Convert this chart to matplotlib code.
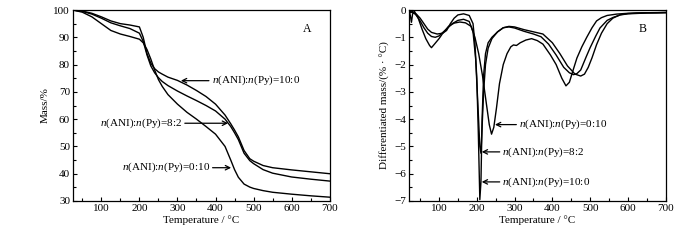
import matplotlib
matplotlib.use("Agg")
import matplotlib.pyplot as plt
from matplotlib.ticker import MultipleLocator

plt.rcParams['font.family'] = ['Liberation Serif', 'DejaVu Serif']
plt.rcParams['mathtext.fontset'] = 'custom'
plt.rcParams['mathtext.rm'] = 'Liberation Serif'
plt.rcParams['mathtext.it'] = 'Liberation Serif:italic'
plt.rcParams['font.size'] = 8

# ---- panel A: TG curves (mass %) ----
temp_a = [25, 50, 75, 100, 125, 150, 175, 200, 210, 220, 230, 240, 250, 260, 275,
          300, 325, 350, 375, 400, 425, 440, 450, 460, 475, 490, 500, 525, 550,
          600, 650, 700]
mass_ani = [100, 99.6, 98.8, 97.5, 96.0, 95.0, 94.5, 93.8, 90.0, 84.0, 80.5, 78.5,
            77.3, 76.5, 75.4, 74.2, 72.5, 70.5, 68.3, 65.5, 61.5, 58.3, 56.0, 53.5,
            48.5, 45.5, 44.6, 43.0, 42.2, 41.4, 40.7, 40.0]
mass_82 = [100, 99.5, 98.5, 97.0, 95.3, 94.2, 93.2, 91.5, 88.5, 83.5, 79.5, 77.0,
           75.2, 73.8, 72.3, 70.3, 68.5, 66.8, 65.0, 63.0, 60.0, 57.3, 55.0, 52.5,
           47.5, 44.8, 43.7, 41.5, 40.2, 38.8, 38.0, 37.3]
mass_py = [100, 99.2, 97.5, 95.0, 92.5, 91.2, 90.3, 89.3, 88.0, 85.5, 82.0, 78.0,
           74.5, 72.0, 69.0, 65.5, 62.5, 60.0, 57.3, 54.5, 50.0, 45.0, 41.5, 38.7,
           36.2, 35.1, 34.6, 33.8, 33.2, 32.5, 31.9, 31.4]

# ---- panel B: DTG curves ----
temp_b_ani = [20, 25, 30, 40, 50, 60, 70, 80, 95, 110, 120, 130, 140, 150, 165, 180,
              190, 195, 200, 204, 208, 211, 214, 218, 223, 230, 240, 255, 270, 285,
              300, 325, 350, 375, 400, 420, 440, 460, 475, 485, 495, 505, 517, 530,
              545, 560, 580, 600, 625, 650, 675, 700]
dtg_ani = [0, -0.05, -0.1, -0.15, -0.3, -0.5, -0.7, -0.82, -0.88, -0.85, -0.75, -0.5,
           -0.3, -0.18, -0.14, -0.2, -0.5, -1.2, -2.5, -4.5, -6.95, -6.3, -4.0, -2.4,
           -1.6, -1.2, -1.0, -0.8, -0.65, -0.6, -0.62, -0.72, -0.8, -0.88, -1.2, -1.6,
           -2.05, -2.35, -2.42, -2.35, -2.1, -1.75, -1.27, -0.85, -0.5, -0.3, -0.17,
           -0.13, -0.11, -0.1, -0.1, -0.09]

temp_b_82 = [20, 25, 30, 40, 50, 60, 70, 80, 90, 100, 110, 120, 135, 150, 165, 180,
             190, 197, 203, 208, 211, 214, 218, 223, 230, 240, 255, 270, 285, 300,
             325, 350, 370, 390, 410, 430, 445, 456, 465, 475, 490, 500, 515, 526,
             545, 561, 580, 600, 650, 700]
dtg_82 = [0, -0.1, -0.05, -0.2, -0.4, -0.65, -0.85, -0.97, -1.0, -0.95, -0.82, -0.7,
          -0.5, -0.38, -0.34, -0.42, -0.8, -1.8, -3.5, -5.0, -5.25, -4.3, -3.0, -2.0,
          -1.4, -1.05, -0.8, -0.65, -0.62, -0.66, -0.78, -0.88, -0.98, -1.25, -1.65,
          -2.1, -2.3, -2.37, -2.33, -2.2, -1.7, -1.38, -0.95, -0.66, -0.38, -0.27,
          -0.18, -0.14, -0.11, -0.1]

temp_b_py = [20, 24, 27, 30, 35, 45, 55, 65, 75, 80, 88, 100, 110, 125, 140, 155,
             170, 185, 195, 205, 215, 225, 233, 239, 245, 252, 260, 270, 280, 290,
             297, 305, 315, 330, 345, 360, 375, 395, 410, 425, 436, 445, 455, 465,
             478, 491, 505, 517, 530, 545, 570, 600, 650, 700]
dtg_py = [0, -0.2, -0.45, -0.15, -0.05, -0.3, -0.7, -1.05, -1.3, -1.38, -1.25, -1.05,
          -0.85, -0.6, -0.48, -0.44, -0.47, -0.6, -1.0, -1.6, -2.4, -3.4, -4.2, -4.55,
          -4.3, -3.6, -2.7, -2.0, -1.6, -1.35, -1.28, -1.3, -1.2, -1.1, -1.05, -1.12,
          -1.25, -1.65, -2.0, -2.5, -2.78, -2.65, -2.2, -1.76, -1.35, -1.0, -0.65,
          -0.4, -0.28, -0.2, -0.15, -0.12, -0.1, -0.09]

lab_ani = r'$n$(ANI):$n$(Py)=10:0'
lab_82 = r'$n$(ANI):$n$(Py)=8:2'
lab_py = r'$n$(ANI):$n$(Py)=0:10'

fig = plt.figure(figsize=(7, 2.4), dpi=100)
axA = fig.add_axes([0.104, 0.1625, 0.367, 0.7958])
axB = fig.add_axes([0.584, 0.1625, 0.367, 0.7958])

lw = 1.0
axA.plot(temp_a, mass_ani, 'k', lw=lw)
axA.plot(temp_a, mass_82, 'k', lw=lw)
axA.plot(temp_a, mass_py, 'k', lw=lw)
axA.set_xlim(25, 700)
axA.set_ylim(30, 100)
axA.xaxis.set_major_locator(MultipleLocator(100))
axA.xaxis.set_minor_locator(MultipleLocator(50))
axA.yaxis.set_major_locator(MultipleLocator(10))
axA.yaxis.set_minor_locator(MultipleLocator(5))
axA.set_xlabel('Temperature / °C', labelpad=2)
axA.set_ylabel('Mass/%', labelpad=3)
axA.text(640, 93, 'A', ha='center', va='center', fontsize=8.5)

arr = dict(arrowstyle='->', color='k', lw=0.9, shrinkA=0, shrinkB=0)
axA.annotate(lab_ani, xy=(309, 74.1), xytext=(390, 74.1), va='center', ha='left',
             arrowprops=arr)
axA.annotate(lab_82, xy=(433, 58.5), xytext=(312, 58.5), va='center', ha='right',
             arrowprops=arr)
axA.annotate(lab_py, xy=(441, 42.2), xytext=(385, 42.2), va='center', ha='right',
             arrowprops=arr)

axB.plot(temp_b_ani, dtg_ani, 'k', lw=lw)
axB.plot(temp_b_82, dtg_82, 'k', lw=lw)
axB.plot(temp_b_py, dtg_py, 'k', lw=lw)
axB.set_xlim(20, 700)
axB.set_ylim(-7, 0)
axB.xaxis.set_major_locator(MultipleLocator(100))
axB.xaxis.set_minor_locator(MultipleLocator(50))
axB.yaxis.set_major_locator(MultipleLocator(1))
axB.yaxis.set_minor_locator(MultipleLocator(0.5))
axB.set_xlabel('Temperature / °C', labelpad=2)
axB.set_ylabel('Differentiated mass/(% · °C)', labelpad=3)
axB.text(640, -0.7, 'B', ha='center', va='center', fontsize=8.5)

axB.annotate(lab_py, xy=(248, -4.2), xytext=(312, -4.2), va='center', ha='left',
             arrowprops=arr)
axB.annotate(lab_82, xy=(213, -5.2), xytext=(268, -5.2), va='center', ha='left',
             arrowprops=arr)
axB.annotate(lab_ani, xy=(213, -6.3), xytext=(268, -6.3), va='center', ha='left',
             arrowprops=arr)

for ax in (axA, axB):
    ax.tick_params(which='both', direction='in', top=False, right=False,
                   labelsize=8, pad=2)
    ax.tick_params(which='major', length=3, width=0.8)
    ax.tick_params(which='minor', length=2, width=0.8)
    for s in ax.spines.values():
        s.set_linewidth(0.9)

fig.savefig('out.png', dpi=100)
